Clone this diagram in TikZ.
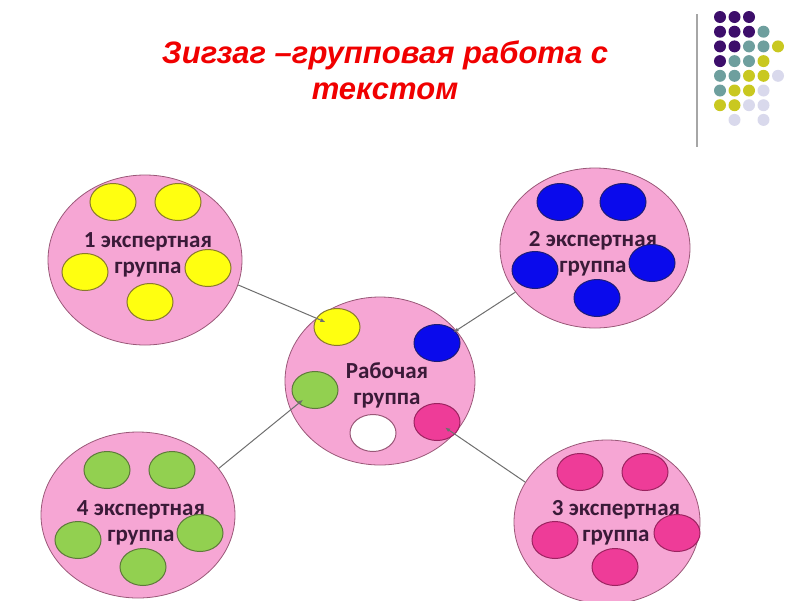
\documentclass[tikz,border=0pt]{standalone}
\usepackage{fontspec}
\setmainfont{Carlito}
\newfontfamily\titlefont{Liberation Sans}
\usetikzlibrary{shapes.geometric,arrows.meta}
\definecolor{pinkbg}{HTML}{F6A6D4}
\definecolor{pinkline}{HTML}{9A5878}
\definecolor{textpurple}{HTML}{3A1A38}
\definecolor{titlered}{HTML}{F00000}
\definecolor{linegray}{HTML}{6E6E6E}
\definecolor{ovyellow}{HTML}{FFFF10}
\definecolor{ovyellowline}{HTML}{8A7A2C}
\definecolor{ovblue}{HTML}{0A0AEC}
\definecolor{ovblueline}{HTML}{1C1C78}
\definecolor{ovgreen}{HTML}{92D050}
\definecolor{ovgreenline}{HTML}{5E7A3A}
\definecolor{ovpink}{HTML}{EE3C98}
\definecolor{ovpinkline}{HTML}{9C2360}
\definecolor{dotP}{HTML}{3D0E6B}
\definecolor{dotT}{HTML}{6E9F9E}
\definecolor{dotY}{HTML}{C9C820}
\definecolor{dotL}{HTML}{D9D9EC}
\begin{document}
\begin{tikzpicture}[x=1pt,y=-1pt,
	bigcircle/.style={ellipse,draw=pinkline,fill=pinkbg,line width=0.8pt,inner sep=0pt},
	oval/.style={ellipse,line width=1pt,minimum width=46pt,minimum height=37pt,inner sep=0pt},
	yoval/.style={oval,fill=ovyellow,draw=ovyellowline},
	boval/.style={oval,fill=ovblue,draw=ovblueline},
	goval/.style={oval,fill=ovgreen,draw=ovgreenline},
	poval/.style={oval,fill=ovpink,draw=ovpinkline},
	grouptext/.style={align=center,text=textpurple,font=\bfseries\fontsize{23}{26}\selectfont},
	link/.style={draw=linegray,line width=1pt,-{Latex[length=5pt,width=4pt]}}]
	\useasboundingbox (0,0) rectangle (800,600);
	% title
	\node[align=center,text=titlered,font=\titlefont\bfseries\itshape\fontsize{31}{36}\selectfont] (title) at (385,70) {Зигзаг –групповая работа с\\текстом};
	% corner dots
	\draw[gray!70,line width=2pt] (697,14) -- (697,147);
	\foreach \i/\j in {0/0,1/0,2/0,0/1,1/1,2/1,0/2,1/2,0/3} \fill[dotP] (720+14.5*\i,17+14.7*\j) circle (6pt);
	\foreach \i/\j in {3/1,2/2,3/2,1/3,2/3,0/4,1/4,0/5} \fill[dotT] (720+14.5*\i,17+14.7*\j) circle (6pt);
	\foreach \i/\j in {4/2,3/3,2/4,3/4,1/5,2/5,0/6,1/6} \fill[dotY] (720+14.5*\i,17+14.7*\j) circle (6pt);
	\foreach \i/\j in {4/4,3/5,2/6,3/6,1/7,3/7} \fill[dotL] (720+14.5*\i,17+14.7*\j) circle (6pt);
	% expert groups
	\node[bigcircle,minimum width=194pt,minimum height=170pt] (g1) at (145,260) {};
	\node[bigcircle,minimum width=190pt,minimum height=160pt] (g2) at (595,248) {};
	\node[bigcircle,minimum width=186pt,minimum height=164pt] (g3) at (607,522) {};
	\node[bigcircle,minimum width=194pt,minimum height=166pt] (g4) at (138,515) {};
	\node[bigcircle,minimum width=190pt,minimum height=168pt] (c) at (380,381) {};
	\node[grouptext] (t1) at (148,255) {1 экспертная\\группа};
	\node[grouptext] (t2) at (593,254) {2 экспертная\\группа};
	\node[grouptext] (t3) at (616,523) {3 экспертная\\группа};
	\node[grouptext] (t4) at (141,523) {4 экспертная\\группа};
	\node[grouptext] (tc) at (387,385) {Рабочая\\группа};
	% members
	\node[yoval] (g1a) at (113,202) {};
	\node[yoval] (g1b) at (178,202) {};
	\node[yoval] (g1c) at (85,272) {};
	\node[yoval] (g1d) at (208,268) {};
	\node[yoval] (g1e) at (150,302) {};
	\node[boval] (g2a) at (560,202) {};
	\node[boval] (g2b) at (623,202) {};
	\node[boval] (g2c) at (535,270) {};
	\node[boval] (g2d) at (652,263) {};
	\node[boval] (g2e) at (597,298) {};
	\node[poval] (g3a) at (580,472) {};
	\node[poval] (g3b) at (645,472) {};
	\node[poval] (g3c) at (555,540) {};
	\node[poval] (g3d) at (677,533) {};
	\node[poval] (g3e) at (615,567) {};
	\node[goval] (g4a) at (107,470) {};
	\node[goval] (g4b) at (172,470) {};
	\node[goval] (g4c) at (78,540) {};
	\node[goval] (g4d) at (200,533) {};
	\node[goval] (g4e) at (143,567) {};
	\node[yoval] (c1) at (337,327) {};
	\node[boval] (c2) at (437,343) {};
	\node[poval] (c3) at (437,422) {};
	\node[goval] (c4) at (315,390) {};
	\node[oval,fill=white,draw=pinkline] (c5) at (373,433) {};
	% links
	\draw[link,shorten >=-10pt] (g1.-15) -- (c1);
	\draw[link,shorten >=-2pt] (g2.209) -- (c2);
	\draw[link,shorten >=-12pt] (g3.154) -- (c3);
	\draw[link,shorten >=-6pt] (g4.30) -- (c4);
\end{tikzpicture}
\end{document}
